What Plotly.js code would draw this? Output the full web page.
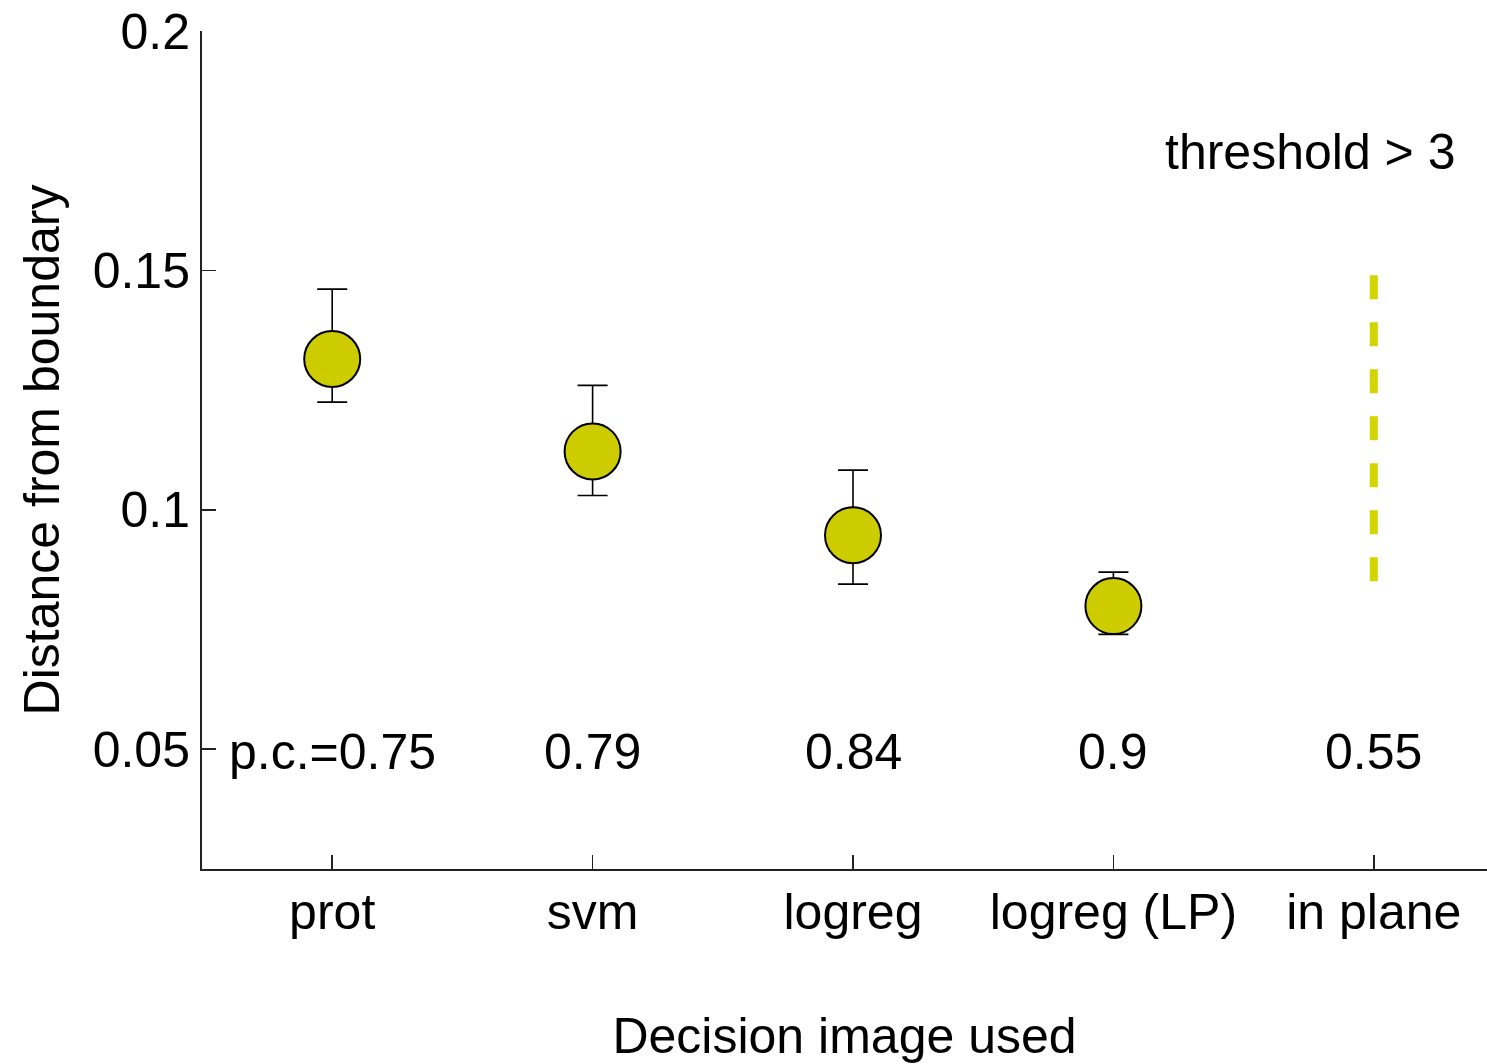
<!DOCTYPE html>
<html>
<head>
<meta charset="utf-8">
<script src="https://cdn.plot.ly/plotly-3.0.1.min.js"></script>
<style>html,body{margin:0;padding:0;background:#fff;}#chart{width:1487px;height:1064px;}</style>
</head>
<body>
<div id="chart"></div>
<script>
const categories = ["prot", "svm", "logreg", "logreg (LP)", "in plane"];
const positions = [1, 2, 3, 4, 5];
const means = [0.1315, 0.1122, 0.0947, 0.0799];
const errUpper = [0.0146, 0.0138, 0.0136, 0.0071];
const errLower = [0.0090, 0.0092, 0.0102, 0.0059];
const pcLabels = ["p.c.=0.75", "0.79", "0.84", "0.9", "0.55"];
const pcLevel = 0.0495;
const planeRange = [0.149, 0.085];
const noteText = "threshold > 3";

const font = "Liberation Sans, Arial, Helvetica, sans-serif";

const traces = [
  {
    x: positions.slice(0, 4),
    y: means,
    mode: "markers",
    type: "scatter",
    marker: {size: 56, color: "#cccc00", line: {color: "#000", width: 2}},
    error_y: {type: "data", symmetric: false, array: errUpper, arrayminus: errLower,
              color: "#000", thickness: 1.6, width: 15},
    showlegend: false, hoverinfo: "x+y"
  },
  {
    x: [positions[4], positions[4]],
    y: planeRange,
    mode: "lines",
    type: "scatter",
    line: {color: "#d4d400", width: 8, dash: "24px,23px"},
    showlegend: false
  }
];

const annotations = pcLabels.map((t, i) => ({
  x: positions[i], y: pcLevel, xref: "x", yref: "y", text: t, showarrow: false,
  font: {family: font, size: 50, color: "#000"}, xanchor: "center", yanchor: "middle"
}));
annotations.push({
  x: (1457 - 202) / (1487 - 202), y: (869 - 152) / (869 - 31),
  xref: "paper", yref: "paper", text: noteText, showarrow: false,
  font: {family: font, size: 50, color: "#000"}, xanchor: "right", yanchor: "middle"
});

const layout = {
  width: 1487, height: 1064,
  margin: {l: 202, r: 0, t: 31, b: 195},
  paper_bgcolor: "#fff", plot_bgcolor: "#fff",
  font: {family: font, size: 50, color: "#000"},
  xaxis: {
    range: [0.5, 5.4347], tickvals: positions, ticktext: categories,
    ticks: "inside", ticklen: 14, tickwidth: 1.6, tickcolor: "#222",
    showline: true, linecolor: "#222", linewidth: 2, showgrid: false, zeroline: false,
    tickfont: {family: font, size: 50}, ticklabelstandoff: -2,
    title: {text: "Decision image used", font: {family: font, size: 50}, standoff: 84}
  },
  yaxis: {
    range: [0.025, 0.2], tickvals: [0.05, 0.1, 0.15, 0.2], ticktext: ["0.05", "0.1", "0.15", "0.2"],
    ticks: "inside", ticklen: 14, tickwidth: 1.6, tickcolor: "#222",
    showline: true, linecolor: "#222", linewidth: 2, showgrid: false, zeroline: false,
    tickfont: {family: font, size: 50},
    title: {text: "Distance from boundary", font: {family: font, size: 50}, standoff: 17}
  },
  annotations: annotations
};

Plotly.newPlot("chart", traces, layout, {displayModeBar: false, staticPlot: true});
</script>
</body>
</html>
